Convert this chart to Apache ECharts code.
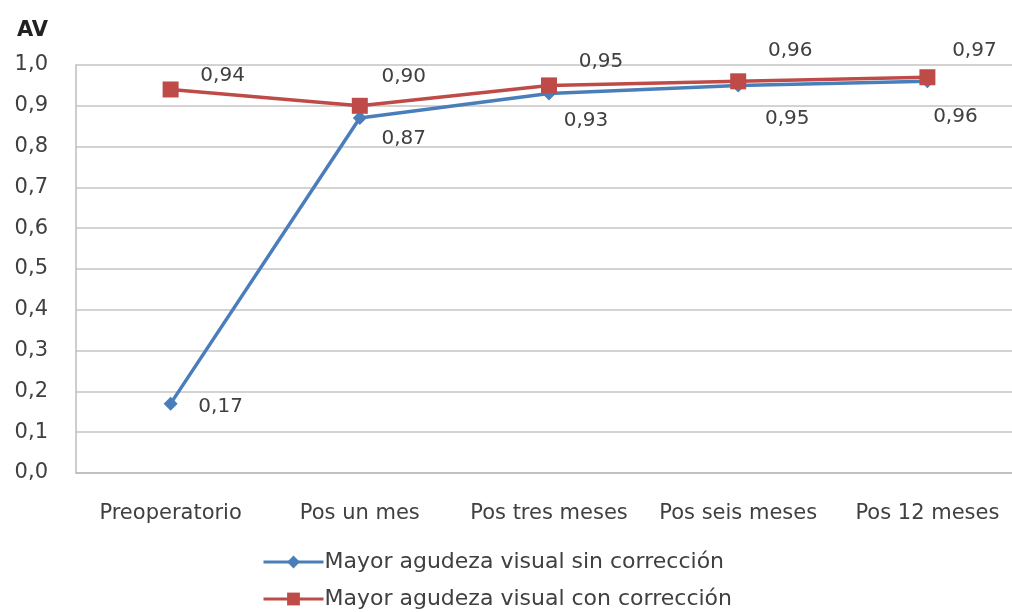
<!DOCTYPE html>
<html>
<head>
<meta charset="utf-8">
<script src="https://cdn.jsdelivr.net/npm/echarts@6/dist/echarts.min.js"></script>
<style>
  html, body { margin: 0; padding: 0; background: #fff; }
  #chart { width: 1012px; height: 612px; }
</style>
</head>
<body>
<div id="chart"></div>
<script>
var categories = ['Preoperatorio', 'Pos un mes', 'Pos tres meses', 'Pos seis meses', 'Pos 12 meses'];
var sinCorreccion = [0.17, 0.87, 0.93, 0.95, 0.96];
var conCorreccion = [0.94, 0.90, 0.95, 0.96, 0.97];
var yTicks = [0, 0.1, 0.2, 0.3, 0.4, 0.5, 0.6, 0.7, 0.8, 0.9, 1.0];
var seriesNames = ['Mayor agudeza visual sin corrección', 'Mayor agudeza visual con corrección'];

// where each value label sits, relative to its point (layout only)
var sinLabelOffsets = [[50, 3], [44, 21], [37, 27], [49, 33], [28, 35]];
var conLabelOffsets = [[52, -14], [44, -29], [52, -24], [52, -31], [47, -26]];

var comma = function (v, d) { return v.toFixed(d).replace('.', ','); };
var numFont = 'DejaVu Sans';
var txtFont = 'DejaVu Sans';

function withLabels(values, offsets) {
  return values.map(function (v, i) {
    return { value: v, label: { offset: offsets[i] } };
  });
}

function legendRow(name, top) {
  return {
    left: 262, top: top, padding: 0,
    itemWidth: 60, itemHeight: 16,
    lineStyle: { width: 3 },
    textStyle: { fontFamily: txtFont, fontSize: 22, color: '#404040', padding: [0, 0, 0, -4] },
    data: [name]
  };
}

var chart = echarts.init(document.getElementById('chart'));
var option = {
  animation: false,
  title: {
    text: 'AV', left: 12, top: 15,
    textStyle: { fontFamily: numFont, fontSize: 21, fontWeight: 'bold', color: '#222' }
  },
  grid: { left: 76, top: 65, width: 946, height: 408, outerBoundsMode: 'none', containLabel: false },
  legend: [legendRow(seriesNames[0], 551), legendRow(seriesNames[1], 588)],
  xAxis: {
    type: 'category', data: categories, boundaryGap: true,
    axisLine: { lineStyle: { color: '#bcbcbc', width: 1.5 } },
    axisTick: { show: false },
    axisLabel: { interval: 0, hideOverlap: false, fontFamily: txtFont, fontSize: 21, color: '#404040', margin: 30 }
  },
  yAxis: {
    type: 'value', min: 0, max: 1, interval: 0.1,
    axisLine: { show: true, lineStyle: { color: '#bcbcbc', width: 1.5 } },
    axisTick: { show: false },
    splitLine: { lineStyle: { color: '#c4c4c4', width: 1.5 } },
    axisLabel: {
      fontFamily: numFont, fontSize: 21, color: '#404040', margin: 28,
      formatter: function (v) { return yTicks.indexOf(Math.round(v * 10) / 10) >= 0 ? comma(v, 1) : ''; }
    }
  },
  series: [
    {
      name: seriesNames[0],
      type: 'line', z: 2,
      data: withLabels(sinCorreccion, sinLabelOffsets),
      symbol: 'diamond', symbolSize: 14,
      itemStyle: { color: '#4a7ebb' },
      lineStyle: { color: '#4a7ebb', width: 3.5 },
      label: {
        show: true, position: 'inside',
        fontFamily: numFont, fontSize: 20, color: '#404040',
        formatter: function (p) { return comma(p.value, 2); }
      }
    },
    {
      name: seriesNames[1],
      type: 'line', z: 3,
      data: withLabels(conCorreccion, conLabelOffsets),
      symbol: 'rect', symbolSize: 16,
      itemStyle: { color: '#be4b48' },
      lineStyle: { color: '#be4b48', width: 3.5 },
      label: {
        show: true, position: 'inside',
        fontFamily: numFont, fontSize: 20, color: '#404040',
        formatter: function (p) { return comma(p.value, 2); }
      }
    }
  ]
};
chart.setOption(option);
</script>
</body>
</html>
